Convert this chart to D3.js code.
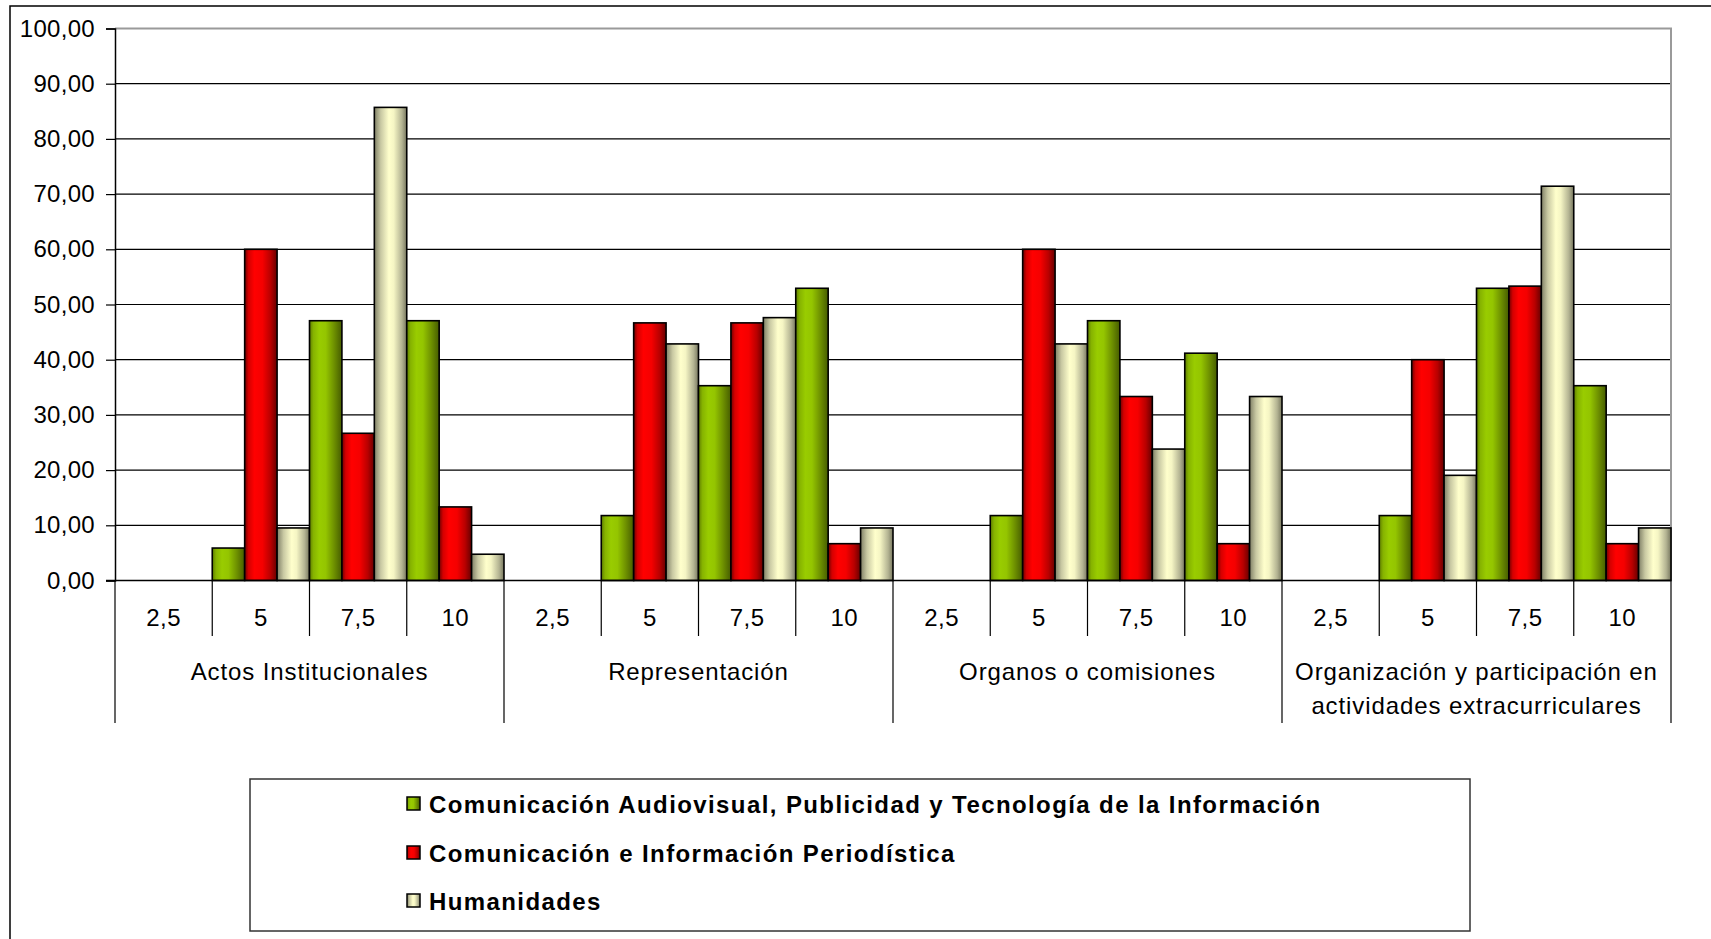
<!DOCTYPE html>
<html>
<head>
<meta charset="utf-8">
<script src="https://cdn.jsdelivr.net/npm/d3@7"></script>
<style>
  html, body { margin: 0; padding: 0; background: #fff; }
  svg { display: block; }
  text { font-family: "Liberation Sans", Arial, sans-serif; fill: #000; }
</style>
</head>
<body>
<svg id="chart" width="1711" height="939"></svg>
<script>
// Activity groups and their rating levels
const groups = [
  ["Actos Institucionales"],
  ["Representación"],
  ["Organos o comisiones"],
  ["Organización y participación en", "actividades extracurriculares"]
];
const levels = ["2,5", "5", "7,5", "10"];

// Degree programmes
const seriesNames = [
  "Comunicación Audiovisual, Publicidad y Tecnología de la Información",
  "Comunicación e Información Periodística",
  "Humanidades"
];

// Percentages, one row per group, one value per level
const audiovisual = [
  [0, 5.88, 47.06, 47.06],
  [0, 11.76, 35.29, 52.94],
  [0, 11.76, 47.06, 41.18],
  [0, 11.76, 52.94, 35.29]
];
const periodistica = [
  [0, 60.00, 26.67, 13.33],
  [0, 46.67, 46.67, 6.67],
  [0, 60.00, 33.33, 6.67],
  [0, 40.00, 53.33, 6.67]
];
const humanidades = [
  [0, 9.52, 85.71, 4.76],
  [0, 42.86, 47.62, 9.52],
  [0, 42.86, 23.81, 33.33],
  [0, 19.05, 71.43, 9.52]
];
const yTicks = [0, 10, 20, 30, 40, 50, 60, 70, 80, 90, 100];

const seriesValues = [audiovisual, periodistica, humanidades];

// Shading per series: dark edges with a bright band
const shades = [
  [[0, "#5f7d00"], [0.12, "#86b300"], [0.3, "#99cc00"], [0.5, "#94c500"], [0.75, "#6f9200"], [1, "#465c00"]],
  [[0, "#6e0000"], [0.12, "#d40000"], [0.3, "#ff0000"], [0.55, "#f50000"], [0.8, "#b80000"], [1, "#660000"]],
  [[0, "#7f7f66"], [0.2, "#c9c9a3"], [0.45, "#ffffcc"], [0.6, "#f5f5c4"], [0.85, "#b3b392"], [1, "#77775f"]]
];

const svg = d3.select("#chart");
const defs = svg.append("defs");
shades.forEach((stops, i) => {
  const g = defs.append("linearGradient")
    .attr("id", "shade" + i)
    .attr("x1", 0).attr("x2", 1).attr("y1", 0).attr("y2", 0);
  stops.forEach(([o, c]) => g.append("stop").attr("offset", o).attr("stop-color", c));
});

// Outer chart frame (runs off the right and bottom edges)
svg.append("rect")
  .attr("x", 10).attr("y", 6)
  .attr("width", 1760).attr("height", 1000)
  .attr("fill", "none").attr("stroke", "#000").attr("stroke-width", 1.5);

const plot = { left: 115, right: 1671, top: 28.5, bottom: 580.5 };

// Flat list of categories: group index + level
const cats = [];
groups.forEach((g, gi) => levels.forEach((l, li) => cats.push({ gi, li, key: gi + "|" + li })));

const x = d3.scaleBand()
  .domain(cats.map(c => c.key))
  .range([plot.left, plot.right])
  .padding(0);
const xs = d3.scaleBand()
  .domain(d3.range(seriesNames.length))
  .range([0, x.bandwidth()])
  .padding(0);
const y = d3.scaleLinear().domain([0, 100]).range([plot.bottom, plot.top]);

const locale = d3.formatLocale({ decimal: ",", thousands: ".", grouping: [3], currency: ["", "€"] });
const fmt = locale.format(".2f");

// Horizontal gridlines
svg.append("g")
  .selectAll("line")
  .data(yTicks.filter(t => t > 0 && t < 100))
  .join("line")
  .attr("x1", plot.left).attr("x2", plot.right)
  .attr("y1", d => y(d)).attr("y2", d => y(d))
  .attr("stroke", "#000").attr("stroke-width", 1.2);

// Plot area border (top and right)
svg.append("path")
  .attr("d", `M${plot.left},${y(100)}H${plot.right}V${plot.bottom}`)
  .attr("fill", "none").attr("stroke", "#9a9a9a").attr("stroke-width", 2);

// Bars
const barData = [];
cats.forEach(c => seriesValues.forEach((sv, si) => barData.push({ c, si, v: sv[c.gi][c.li] })));
svg.append("g")
  .selectAll("rect")
  .data(barData.filter(d => d.v > 0))
  .join("rect")
  .attr("x", d => x(d.c.key) + xs(d.si))
  .attr("width", xs.bandwidth())
  .attr("y", d => y(d.v))
  .attr("height", d => y(0) - y(d.v))
  .attr("fill", d => `url(#shade${d.si})`)
  .attr("stroke", "#000").attr("stroke-width", 1.6);

// Y axis
const yAxis = d3.axisLeft(y).tickValues(yTicks).tickFormat(fmt).tickSize(9).tickPadding(11);
const gy = svg.append("g").attr("transform", `translate(${plot.left},0)`).call(yAxis);
gy.select(".domain").attr("stroke", "#000").attr("stroke-width", 1.5);
gy.selectAll(".tick line").attr("stroke", "#000").attr("stroke-width", 1.2);
gy.selectAll(".tick text")
  .style("font-family", "'Liberation Sans', Arial, sans-serif")
  .style("font-size", "24px").style("letter-spacing", "0.3px").attr("fill", "#000");

// X axis baseline
svg.append("line")
  .attr("x1", plot.left - 9).attr("x2", plot.right)
  .attr("y1", y(0)).attr("y2", y(0))
  .attr("stroke", "#000").attr("stroke-width", 1.5);

// Category separators: short between levels, long between groups
const boundaries = cats.map(c => ({ x: x(c.key), outer: c.li === 0 }));
boundaries.push({ x: plot.right, outer: true });
svg.append("g")
  .selectAll("line")
  .data(boundaries)
  .join("line")
  .attr("x1", d => d.x).attr("x2", d => d.x)
  .attr("y1", y(0)).attr("y2", d => d.outer ? 723 : 636)
  .attr("stroke", "#000").attr("stroke-width", 1.2);

// Level labels
svg.append("g")
  .selectAll("text")
  .data(cats)
  .join("text")
  .attr("x", d => x(d.key) + x.bandwidth() / 2)
  .attr("y", 626)
  .attr("text-anchor", "middle")
  .style("font-size", "24px")
  .style("letter-spacing", "0.5px")
  .text(d => levels[d.li]);

// Group labels
const groupWidth = x.bandwidth() * levels.length;
groups.forEach((lines, gi) => {
  const cx = x(gi + "|0") + groupWidth / 2;
  const t = svg.append("text")
    .attr("text-anchor", "middle")
    .style("font-size", "24px")
    .style("letter-spacing", "0.9px");
  lines.forEach((ln, k) => t.append("tspan").attr("x", cx).attr("y", 680 + k * 34).text(ln));
});

// Legend
const legend = svg.append("g");
legend.append("rect")
  .attr("x", 250).attr("y", 779)
  .attr("width", 1220).attr("height", 152)
  .attr("fill", "#fff").attr("stroke", "#333").attr("stroke-width", 1.5);
const rowY = [804, 853, 901];
seriesNames.forEach((name, i) => {
  legend.append("rect")
    .attr("x", 407).attr("y", rowY[i] - 7)
    .attr("width", 13).attr("height", 13)
    .attr("fill", `url(#shade${i})`)
    .attr("stroke", "#000").attr("stroke-width", 1.5);
  legend.append("text")
    .attr("x", 429).attr("y", rowY[i] + 8.5)
    .style("font-size", "24px").style("font-weight", "bold")
    .style("letter-spacing", "1.4px")
    .text(name);
});
</script>
</body>
</html>
